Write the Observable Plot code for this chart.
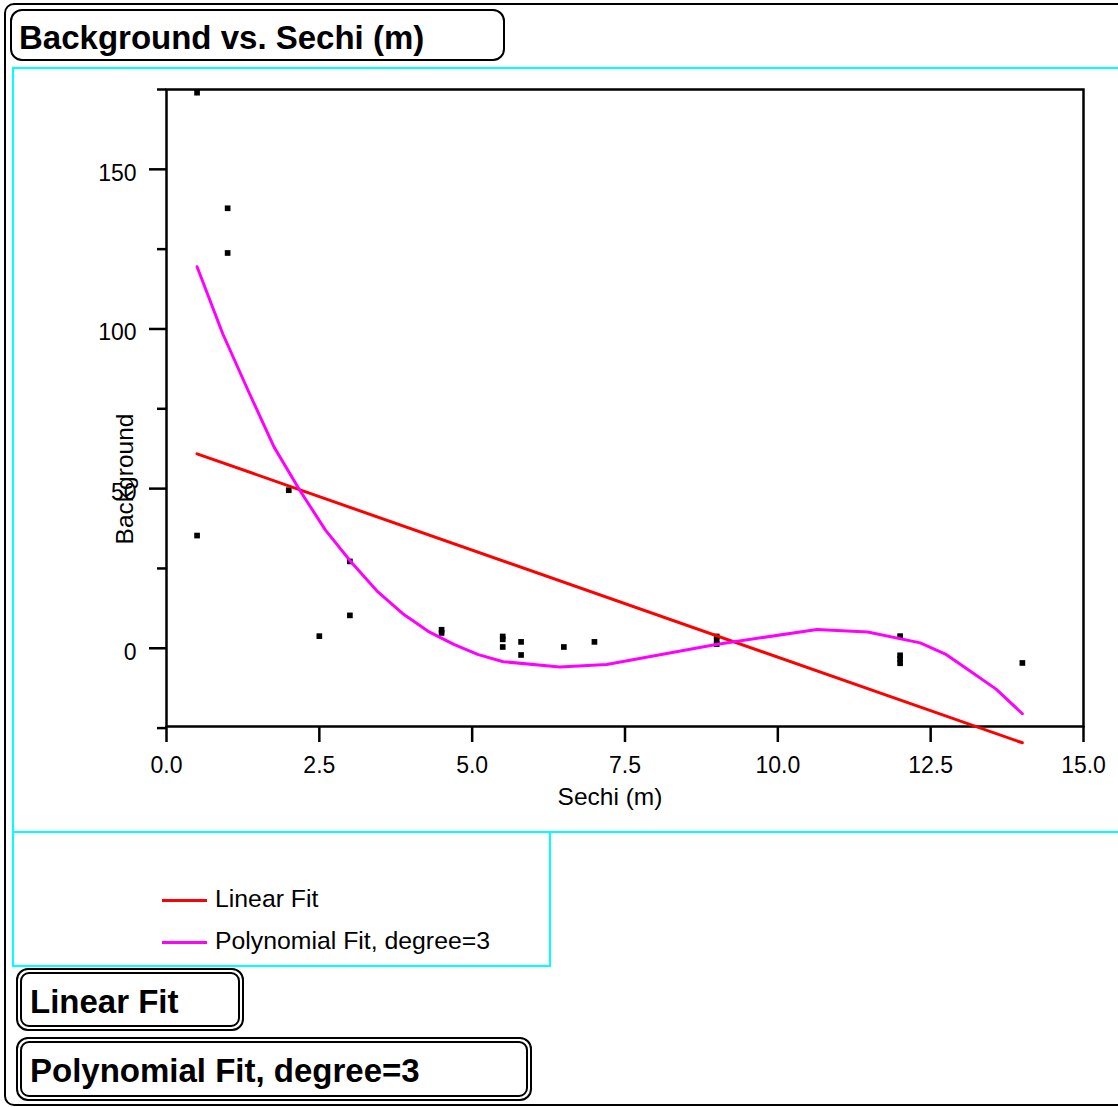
<!DOCTYPE html>
<html>
<head>
<meta charset="utf-8">
<script src="https://cdn.jsdelivr.net/npm/d3@7"></script>
<script src="https://cdn.jsdelivr.net/npm/@observablehq/plot@0.6"></script>
<style>
  html, body { margin: 0; padding: 0; background: white; }
  body { width: 1118px; height: 1107px; position: relative; overflow: hidden;
         font-family: "Liberation Sans", Arial, Helvetica, sans-serif; color: black; }
  .abs { position: absolute; box-sizing: border-box; }
  .boldtxt { position: absolute; font-weight: bold; font-size: 33px; line-height: 33px; white-space: nowrap; }
  .legtxt { position: absolute; font-size: 24.8px; line-height: 24px; white-space: nowrap; }
  .legline { position: absolute; height: 2.5px; width: 45px; }
</style>
</head>
<body>
<div class="abs" style="left:4px; top:3px; width:1140px; height:1103px; border:2.5px solid black; border-radius:10px;"></div>
<div class="abs" style="left:10px; top:9px; width:495px; height:52px; border:2px solid black; border-radius:12px;"></div>
<div class="boldtxt" id="title" style="left:19px; top:21px;"></div>

<div class="abs" style="left:12px; top:67px; width:1130px; height:766px; border:2px solid #00ffff;"></div>
<div id="chart" class="abs" style="left:14px; top:69px; width:1104px; height:762px;"></div>

<div class="abs" style="left:12px; top:831px; width:539px; height:136px; border:2px solid #00ffff;"></div>
<div id="legend"></div>

<div class="abs" style="left:16px; top:968px; width:228px; height:63px; border:2px solid black; border-radius:12px;"></div>
<div class="abs" style="left:20px; top:972px; width:220px; height:55px; border:2px solid black; border-radius:9px;"></div>
<div class="boldtxt" id="sec1" style="left:30px; top:985px;"></div>

<div class="abs" style="left:16px; top:1037px; width:516px; height:64px; border:2px solid black; border-radius:12px;"></div>
<div class="abs" style="left:20px; top:1041px; width:508px; height:56px; border:2px solid black; border-radius:9px;"></div>
<div class="boldtxt" id="sec2" style="left:30px; top:1054px;"></div>

<script>
// ---- text ----
const titleText = "Background vs. Sechi (m)";
const xLabel = "Sechi (m)";
const yLabel = "Background";
const seriesNames = ["Linear Fit", "Polynomial Fit, degree=3"];
const seriesColors = ["#ff0000", "#ff00ff"];

// ---- ticks ----
const xTicks = [0, 2.5, 5, 7.5, 10, 12.5, 15];
const yMajor = [0, 50, 100, 150];
const yMinor = [-25, 25, 75, 125, 175];

// ---- observations ----
const sechi =      [0.5, 0.5,  1.0,   1.0,   2.0,  2.5, 3.0,  3.0,  4.5, 4.5, 5.5, 5.5, 5.5, 5.8, 5.8,  6.5, 7.0, 9.0, 9.0, 9.0, 12.0, 12.0, 12.0, 12.0, 14.0];
const background = [174, 35.3, 137.8, 123.8, 49.5, 3.8, 27.2, 10.3, 5.8, 4.8, 3.7, 2.8, 0.4, 2.0, -2.1, 0.4, 2.0, 3.7, 2.5, 1.3, 3.8,  -2.2, -3.4, -4.7, -4.6];

// ---- fitted curves ----
const linX = [0.5, 14.0];
const linY = [60.9, -29.6];
const polyX = [0.5, 0.92, 1.34, 1.76, 2.18, 2.6, 3.02, 3.44, 3.86, 4.28, 4.7, 5.1, 5.51, 6.43, 7.2, 8.99, 10.64, 11.47, 12.33, 12.74, 13.15, 13.57, 14.0];
const polyY = [119.5, 98.5, 80.5, 63, 49.5, 37, 27, 18, 10.9, 5.3, 1.2, -2, -4.2, -5.9, -5.1, 1.2, 5.9, 5.1, 1.7, -1.8, -7.2, -12.8, -20.5];

document.getElementById("title").textContent = titleText;
document.getElementById("sec1").textContent = seriesNames[0];
document.getElementById("sec2").textContent = seriesNames[1];

const leg = document.getElementById("legend");
const legTops = [887, 929];
seriesNames.forEach((name, i) => {
  const ln = document.createElement("div");
  ln.className = "legline";
  ln.style.left = "162px";
  ln.style.top = (legTops[i] + 12) + "px";
  ln.style.background = seriesColors[i];
  leg.appendChild(ln);
  const t = document.createElement("div");
  t.className = "legtxt";
  t.style.left = "215px";
  t.style.top = legTops[i] + "px";
  t.textContent = name;
  leg.appendChild(t);
});

const points = sechi.map((x, i) => ({x, y: background[i]}));
const lin = linX.map((x, i) => ({x, y: linY[i]}));
const poly = polyX.map((x, i) => ({x, y: polyY[i]}));

const chart = Plot.plot({
  width: 1104,
  height: 762,
  marginLeft: 152,
  marginTop: 20,
  marginRight: 35,
  marginBottom: 105,
  x: {domain: [0, 15]},
  y: {domain: [-24.5, 175]},
  style: {
    fontFamily: "'Liberation Sans', Arial, Helvetica, sans-serif",
    fontSize: "23px",
    color: "black",
    background: "white",
    overflow: "visible"
  },
  marks: [
    Plot.axisX(xTicks, {tickSize: 16, tickPadding: 14, tickFormat: d => d.toFixed(1), fontSize: 23, strokeWidth: 2.5, label: null}),
    Plot.axisY(yMajor, {tickSize: 17, tickFormat: () => "", strokeWidth: 2.5, label: null}),
    Plot.axisY(yMajor, {tickSize: 0, tickPadding: 30, dy: 4, fontSize: 23, tickFormat: d => String(d), label: null}),
    Plot.axisY(yMinor, {tickSize: 9, tickFormat: () => "", strokeWidth: 2.5, label: null}),
    Plot.frame({stroke: "black", strokeWidth: 2.5}),
    Plot.dot(points, {x: "x", y: "y", symbol: "square", r: 3.2, fill: "black", stroke: "none"}),
    Plot.line(lin, {x: "x", y: "y", stroke: seriesColors[0], strokeWidth: 3}),
    Plot.line(poly, {x: "x", y: "y", stroke: seriesColors[1], strokeWidth: 3}),
    Plot.text([xLabel], {frameAnchor: "bottom", text: d => d, dx: -15, dy: 71, fontSize: 24.5, textAnchor: "middle", lineAnchor: "middle"}),
    Plot.text([yLabel], {frameAnchor: "left", text: d => d, rotate: -90, dx: -41, dy: 71, fontSize: 24.5, textAnchor: "middle", lineAnchor: "middle"})
  ]
});
document.getElementById("chart").appendChild(chart);
</script>
</body>
</html>
